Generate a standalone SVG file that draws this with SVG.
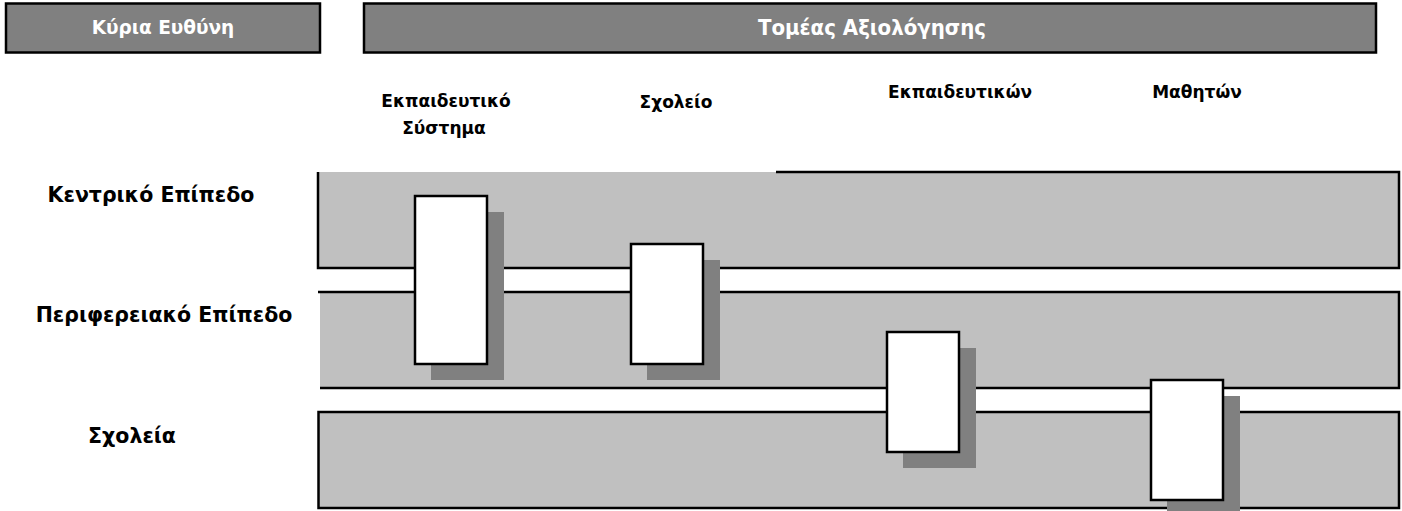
<svg xmlns="http://www.w3.org/2000/svg" width="1402" height="511" viewBox="0 0 1402 511">
<style>
.hdr{fill:#808080;stroke:#000;stroke-width:2.5}
.band{fill:#C0C0C0;stroke:none}
.ln{stroke:#000;stroke-width:2.5;fill:none}
.shadow{fill:#808080;stroke:none}
.box{fill:#fff;stroke:#000;stroke-width:2.5}
.t{font-family:"DejaVu Sans","Noto Sans",sans-serif;font-weight:bold;font-size:17px;fill:#000;text-anchor:middle}
.row{font-size:20.5px}
.tw{fill:#fff;font-size:18.5px}
.tc{font-family:"DejaVu Sans Condensed","DejaVu Sans",sans-serif;font-size:22px}
</style>
<rect width="1402" height="511" fill="#fff"/>
<g id="header-responsibility">
<rect class="hdr" x="6" y="3.5" width="314" height="49"/>
<text class="t tw" x="163" y="34">Κύρια Ευθύνη</text>
</g>
<g id="header-sector">
<rect class="hdr" x="364" y="3.5" width="1012" height="49"/>
<text class="t tw tc" x="872" y="35">Τομέας Αξιολόγησης</text>
</g>
<g id="col-labels">
<text class="t" x="446" y="107">Εκπαιδευτικό</text>
<text class="t" x="444" y="134">Σύστημα</text>
<text class="t" x="676" y="108">Σχολείο</text>
<text class="t" x="960" y="98">Εκπαιδευτικών</text>
<text class="t" x="1197" y="98">Μαθητών</text>
</g>
<g id="row-labels">
<text class="t row" x="151" y="202">Κεντρικό Επίπεδο</text>
<text class="t row" x="164" y="322">Περιφερειακό Επίπεδο</text>
<text class="t row" x="132" y="443">Σχολεία</text>
</g>
<g id="band-central">
<rect class="band" x="319" y="172" width="1080" height="96"/>
<path class="ln" d="M776 172 H1399 V268 H318 V172"/>
</g>
<g id="band-regional">
<rect class="band" x="320" y="292" width="1079" height="96"/>
<path class="ln" d="M318 292 H1399 V388 H320"/>
</g>
<g id="band-schools">
<rect class="band" x="319" y="412" width="1080" height="96"/>
<path class="ln" d="M318.5 412 H1399 V508 H318.5 Z"/>
</g>
<g id="connectors"></g>
<g id="node-system">
<rect class="shadow" x="431" y="212" width="73" height="168"/>
<rect class="box" x="415" y="196" width="72" height="168"/>
</g>
<g id="node-school">
<rect class="shadow" x="647" y="260" width="73" height="120"/>
<rect class="box" x="631" y="244" width="72" height="120"/>
</g>
<g id="node-teachers">
<rect class="shadow" x="903" y="348" width="73" height="120"/>
<rect class="box" x="887" y="332" width="72" height="120"/>
</g>
<g id="node-students">
<rect class="shadow" x="1167" y="396" width="73" height="120"/>
<rect class="box" x="1151" y="380" width="72" height="120"/>
</g>
</svg>
